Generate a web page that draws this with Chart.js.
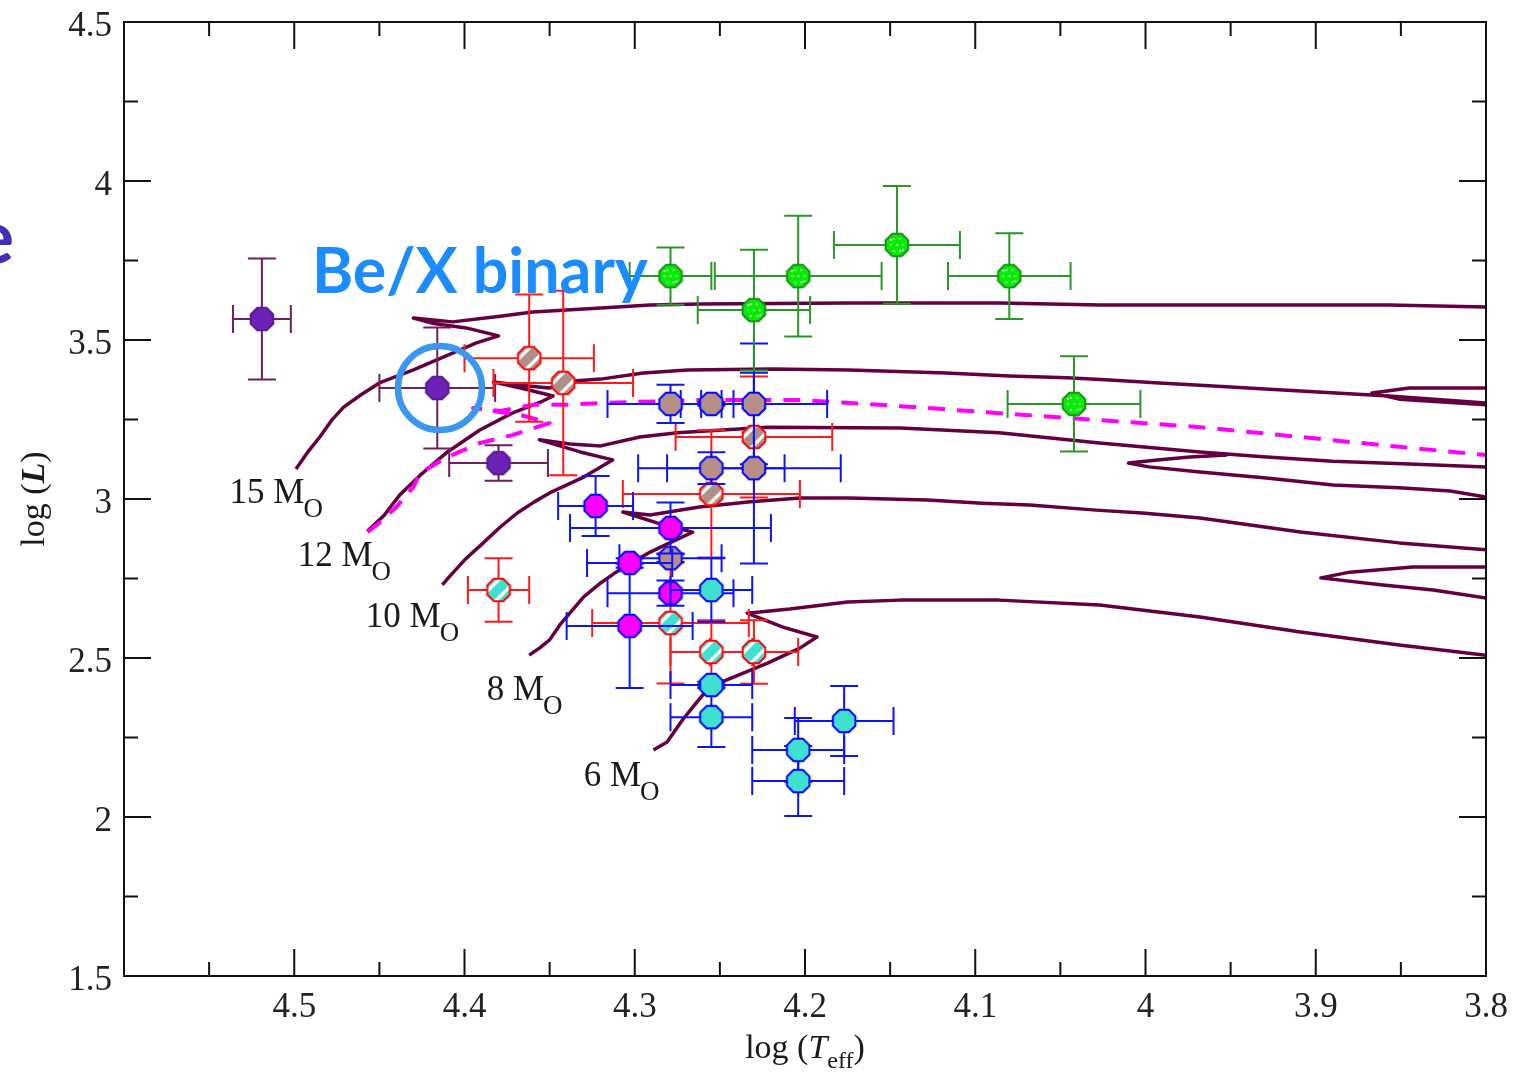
<!DOCTYPE html>
<html><head><meta charset="utf-8">
<script src="https://cdn.jsdelivr.net/npm/chart.js@4.4.1/dist/chart.umd.min.js"></script>
<style>html,body{margin:0;padding:0;background:#fff;overflow:hidden}canvas{display:block}</style>
</head><body>
<canvas id="c" width="1513" height="1076" style="width:1513px;height:1076px"></canvas>
<script>
// ---------- axis ranges ----------
const xMin = 3.8, xMax = 4.6, yMin = 1.5, yMax = 4.5;
const xTickStep = 0.1, yTickStep = 0.5;
const xTickLabels = ['4.5', '4.4', '4.3', '4.2', '4.1', '4', '3.9', '3.8'];
const yTickLabels = ['1.5', '2', '2.5', '3', '3.5', '4', '4.5'];

// ---------- evolutionary tracks [logTeff, logL] ----------
const track15 = [[4.499,3.094],[4.492,3.148],[4.485,3.195],[4.478,3.248],[4.471,3.289],[4.461,3.327],[4.450,3.365],[4.430,3.406],[4.407,3.459],[4.393,3.491],[4.380,3.513],[4.399,3.538],[4.419,3.553],[4.430,3.569],[4.407,3.557],[4.379,3.575],[4.360,3.588],[4.320,3.601],[4.291,3.610],[4.262,3.613],[4.174,3.616],[4.086,3.616],[4.027,3.610],[3.857,3.610],[3.800,3.604]];
const track12 = [[4.457,2.899],[4.447,2.950],[4.438,3.013],[4.426,3.075],[4.410,3.148],[4.391,3.217],[4.372,3.270],[4.354,3.308],[4.348,3.324],[4.367,3.349],[4.383,3.368],[4.367,3.358],[4.350,3.349],[4.336,3.371],[4.320,3.377],[4.295,3.396],[4.269,3.406],[4.219,3.409],[4.174,3.406],[4.117,3.396],[4.080,3.387],[4.046,3.381],[4.021,3.374],[3.992,3.365],[3.968,3.358],[3.909,3.340],[3.857,3.324],[3.800,3.302],[3.770,3.290],[3.770,3.360],[3.800,3.349],[3.845,3.349],[3.867,3.333],[3.851,3.314],[3.800,3.296],[3.770,3.285]];
const track10 = [[4.413,2.730],[4.409,2.755],[4.400,2.808],[4.389,2.862],[4.379,2.912],[4.369,2.956],[4.359,2.991],[4.350,3.019],[4.330,3.069],[4.313,3.123],[4.332,3.148],[4.356,3.186],[4.338,3.173],[4.320,3.167],[4.297,3.195],[4.275,3.208],[4.222,3.226],[4.144,3.223],[4.086,3.208],[4.027,3.176],[3.968,3.148],[3.929,3.132],[3.890,3.119],[3.845,3.110],[3.800,3.101],[3.770,3.095],[3.770,2.990],[3.800,3.006],[3.821,3.025],[3.851,3.035],[3.890,3.044],[3.929,3.066],[3.968,3.085],[3.998,3.101],[4.010,3.113],[3.993,3.123],[3.974,3.132],[3.952,3.138]];
const track8 = [[4.362,2.509],[4.356,2.531],[4.350,2.557],[4.344,2.604],[4.340,2.629],[4.330,2.692],[4.320,2.736],[4.311,2.770],[4.291,2.833],[4.272,2.881],[4.266,2.896],[4.287,2.925],[4.307,2.959],[4.291,2.950],[4.262,2.975],[4.232,2.991],[4.203,3.003],[4.174,3.003],[4.128,2.997],[4.096,2.987],[4.068,2.981],[4.029,2.965],[4.002,2.956],[3.968,2.940],[3.909,2.896],[3.851,2.862],[3.800,2.840],[3.770,2.830],[3.770,2.790],[3.800,2.786],[3.843,2.786],[3.880,2.770],[3.897,2.752],[3.862,2.730],[3.831,2.714],[3.800,2.689],[3.770,2.680]];
const track6 = [[4.289,2.211],[4.281,2.236],[4.272,2.305],[4.264,2.358],[4.256,2.409],[4.242,2.440],[4.222,2.484],[4.203,2.531],[4.193,2.566],[4.213,2.597],[4.234,2.641],[4.209,2.654],[4.175,2.676],[4.144,2.682],[4.086,2.682],[4.027,2.667],[3.968,2.629],[3.909,2.582],[3.851,2.541],[3.800,2.509]];
const trackDashed = [[4.457,2.896],[4.450,2.925],[4.440,2.975],[4.430,3.038],[4.426,3.082],[4.416,3.113],[4.410,3.132],[4.391,3.176],[4.372,3.201],[4.350,3.239],[4.367,3.264],[4.395,3.286],[4.379,3.277],[4.360,3.296],[4.340,3.296],[4.320,3.302],[4.262,3.311],[4.203,3.311],[4.144,3.292],[4.086,3.270],[4.027,3.248],[3.968,3.226],[3.909,3.195],[3.851,3.164],[3.800,3.138]];

// track labels: mass, left logT, baseline logL
const trackLabelMass = ['15', '12', '10', '8', '6'];
const trackLabelT = [4.538, 4.498, 4.458, 4.387, 4.330];
const trackLabelL = [2.987, 2.789, 2.598, 2.368, 2.098];

// ---------- stars ----------
const purpleT = [4.519, 4.416, 4.380];
const purpleL = [3.566, 3.349, 3.113];
const purpleXErr = [0.017, 0.034, 0.029];
const purpleYErr = [0.19, 0.19, 0.056];

const greyHatchT = [4.362, 4.342, 4.230, 4.255];
const greyHatchL = [3.443, 3.365, 3.195, 3.016];
const greyHatchXErr = [0.038, 0.041, 0.046, 0.052];
const greyHatchYErr = [0.20, 0.29, 0.19, 0.20];

const tealHatchT = [4.380, 4.279, 4.255, 4.230];
const tealHatchL = [2.714, 2.610, 2.519, 2.519];
const tealHatchXErr = [0.018, 0.046, 0.024, 0.026];
const tealHatchYErr = [0.10, 0.19, 0.10, 0.10];

const brownT = [4.279, 4.255, 4.230, 4.255, 4.230, 4.279];
const brownL = [3.299, 3.299, 3.299, 3.097, 3.097, 2.814];
const brownXErr = [0.037, 0.006, 0.043, 0.043, 0.051, 0.030];
const brownYErr = [0.06, 0.006, 0.19, 0.05, 0.30, 0.012];

const magentaT = [4.323, 4.279, 4.303, 4.279, 4.303];
const magentaL = [2.978, 2.909, 2.799, 2.704, 2.601];
const magentaXErr = [0.022, 0.059, 0.025, 0.037, 0.037];
const magentaYErr = [0.094, 0.08, 0.015, 0.04, 0.195];

const tealT = [4.255, 4.255, 4.255, 4.177, 4.204, 4.204];
const tealL = [2.714, 2.415, 2.314, 2.302, 2.211, 2.113];
const tealXErr = [0.024, 0.024, 0.024, 0.029, 0.027, 0.027];
const tealYErr = [0.10, 0.01, 0.094, 0.11, 0.10, 0.11];

const greenT = [4.279, 4.230, 4.204, 4.146, 4.080, 4.042];
const greenL = [3.701, 3.594, 3.701, 3.799, 3.701, 3.299];
const greenXErr = [0.024, 0.033, 0.049, 0.037, 0.036, 0.039];
const greenYErr = [0.09, 0.19, 0.19, 0.185, 0.135, 0.15];

// annotation anchors
const beXText = 'Be/X binary';
const beXPos = [4.4896, 3.648];
const circlePos = [4.4144, 3.349];

// ---------- styles ----------
const TRACK = '#64003f';
const SERIF = '"Liberation Serif", "Times New Roman", serif';

function makeMarker(fill, edge, pattern) {
  const s = 30, r = 12.2;
  const c = document.createElement('canvas'); c.width = s; c.height = s;
  const g = c.getContext('2d');
  const oct = () => { g.beginPath(); for (let i = 0; i < 8; i++) { const a = Math.PI / 8 + i * Math.PI / 4; const px = s/2 + r*Math.cos(a), py = s/2 + r*Math.sin(a); i ? g.lineTo(px, py) : g.moveTo(px, py); } g.closePath(); };
  oct(); g.fillStyle = fill; g.fill();
  if (pattern === 'hatch') {
    g.save(); oct(); g.clip(); g.strokeStyle = '#fff'; g.lineWidth = 3.2;
    [-5, 4].forEach(o => { g.beginPath(); g.moveTo(s/2 - 14 + o, s/2 + 14 + o); g.lineTo(s/2 + 14 + o, s/2 - 14 + o); g.stroke(); });
    g.restore();
  } else if (pattern === 'dots') {
    g.fillStyle = '#fff';
    [[-3,-6],[3,-6],[-6,0],[0,0],[6,0],[-3,6],[3,6],[-6,-5],[6,5]].forEach(([dx,dy]) => { g.beginPath(); g.arc(s/2+dx, s/2+dy, 1.1, 0, 2*Math.PI); g.fill(); });
  }
  oct(); g.lineWidth = 2; g.strokeStyle = edge; g.stroke();
  return c;
}

const pairs = (T, L) => T.map((t, i) => ({ x: t, y: L[i] }));
const trackData = arr => arr.map(p => ({ x: p[0], y: p[1] }));

function trackDs(arr, color, dash) {
  return { data: trackData(arr), showLine: true, borderColor: color, borderWidth: dash ? 4 : 3.5,
    borderDash: dash || [], pointRadius: 0, fill: false, clip: 0, order: 10, tension: 0, borderJoinStyle: 'round' };
}
function starDs(T, L, xe, ye, marker, errColor) {
  return { data: pairs(T, L), showLine: false, pointStyle: marker, pointRadius: 12, clip: 0, order: 1,
    err: { x: xe, y: ye, color: errColor } };
}

const datasets = [
  starDs(greenT, greenL, greenXErr, greenYErr, makeMarker('#00f000', '#1d8f1d', 'dots'), '#2a962a'),
  starDs(tealT, tealL, tealXErr, tealYErr, makeMarker('#40e0d0', '#0000ff'), '#0a14ff'),
  starDs(magentaT, magentaL, magentaXErr, magentaYErr, makeMarker('#ff00ff', '#0000ff'), '#0a14ff'),
  starDs(brownT, brownL, brownXErr, brownYErr, makeMarker('#b68f88', '#0000ff'), '#0a14ff'),
  starDs(tealHatchT, tealHatchL, tealHatchXErr, tealHatchYErr, makeMarker('#40e0d0', '#ff0000', 'hatch'), '#ff1a1a'),
  starDs(greyHatchT, greyHatchL, greyHatchXErr, greyHatchYErr, makeMarker('#ae8f88', '#ff0000', 'hatch'), '#ff1a1a'),
  starDs(purpleT, purpleL, purpleXErr, purpleYErr, makeMarker('#6c22b6', '#58189a'), '#6e1f5c'),
  trackDs(trackDashed, '#ff00ff', [17, 12]),
  trackDs(track15, TRACK), trackDs(track12, TRACK), trackDs(track10, TRACK), trackDs(track8, TRACK), trackDs(track6, TRACK)
];

const errorBars = {
  id: 'errorBars',
  beforeDatasetDraw(chart, args) {
    const ds = chart.data.datasets[args.index];
    if (!ds.err) return;
    const { ctx, chartArea: a, scales: { x, y } } = chart;
    const cap = 14;
    ctx.save();
    ctx.beginPath(); ctx.rect(a.left, a.top, a.right - a.left, a.bottom - a.top); ctx.clip();
    ctx.strokeStyle = ds.err.color; ctx.lineWidth = 2; ctx.lineCap = 'butt';
    ds.data.forEach((p, i) => {
      const px = x.getPixelForValue(p.x), py = y.getPixelForValue(p.y);
      const ex = ds.err.x[i], ey = ds.err.y[i];
      const x1 = x.getPixelForValue(p.x - ex), x2 = x.getPixelForValue(p.x + ex);
      const y1 = y.getPixelForValue(p.y - ey), y2 = y.getPixelForValue(p.y + ey);
      ctx.beginPath();
      ctx.moveTo(x1, py); ctx.lineTo(x2, py);
      ctx.moveTo(x1, py - cap); ctx.lineTo(x1, py + cap);
      ctx.moveTo(x2, py - cap); ctx.lineTo(x2, py + cap);
      ctx.moveTo(px, y1); ctx.lineTo(px, y2);
      ctx.moveTo(px - cap, y1); ctx.lineTo(px + cap, y1);
      ctx.moveTo(px - cap, y2); ctx.lineTo(px + cap, y2);
      ctx.stroke();
    });
    ctx.restore();
  }
};

const frame = {
  id: 'frame',
  afterDatasetsDraw(chart) {
    const { ctx, chartArea: a, scales: { x, y } } = chart;
    ctx.save(); ctx.strokeStyle = '#111'; ctx.lineWidth = 2;
    ctx.strokeRect(a.left, a.top, a.right - a.left, a.bottom - a.top);
    ctx.beginPath();
    const nx = Math.round((xMax - xMin) / (xTickStep / 2));
    for (let k = 0; k <= nx; k++) {
      const v = xMin + k * xTickStep / 2, len = k % 2 === 0 ? 27 : 14, px = x.getPixelForValue(v);
      ctx.moveTo(px, a.bottom); ctx.lineTo(px, a.bottom - len);
      ctx.moveTo(px, a.top); ctx.lineTo(px, a.top + len);
    }
    const ny = Math.round((yMax - yMin) / (yTickStep / 2));
    for (let k = 0; k <= ny; k++) {
      const v = yMin + k * yTickStep / 2, len = k % 2 === 0 ? 27 : 14, py = y.getPixelForValue(v);
      ctx.moveTo(a.left, py); ctx.lineTo(a.left + len, py);
      ctx.moveTo(a.right, py); ctx.lineTo(a.right - len, py);
    }
    ctx.stroke();
    // tick labels
    ctx.fillStyle = '#222'; ctx.font = '35px ' + SERIF; ctx.textBaseline = 'alphabetic';
    ctx.textAlign = 'center';
    xTickLabels.forEach(t => { const px = x.getPixelForValue(parseFloat(t)); ctx.fillText(t, px, a.bottom + 41); });
    ctx.textAlign = 'right';
    yTickLabels.forEach(t => { const py = y.getPixelForValue(parseFloat(t)); ctx.fillText(t, a.left - 12, py + 14); });
    ctx.restore();
  }
};

const texts = {
  id: 'texts',
  afterDraw(chart) {
    const { ctx, chartArea: a, scales: { x, y } } = chart;
    ctx.save();
    ctx.fillStyle = '#1a1a1a'; ctx.textBaseline = 'alphabetic'; ctx.textAlign = 'left';
    // track labels
    trackLabelMass.forEach((m, i) => {
      const px = x.getPixelForValue(trackLabelT[i]), py = y.getPixelForValue(trackLabelL[i]);
      ctx.font = '35px ' + SERIF;
      const main = m + ' M';
      ctx.fillText(main, px, py);
      const w = ctx.measureText(main).width;
      ctx.font = '27px ' + SERIF;
      ctx.fillText('O', px + w - 1, py + 14);
    });
    // x title
    const parts = [['log (', '34px ' + SERIF, 0], ['T', 'italic 34px ' + SERIF, 0], ['eff', '24px ' + SERIF, 10], [')', '34px ' + SERIF, 0]];
    let tw = 0; parts.forEach(p => { ctx.font = p[1]; tw += ctx.measureText(p[0]).width; });
    let cx = (a.left + a.right) / 2 - tw / 2; const by = a.bottom + 82;
    parts.forEach(p => { ctx.font = p[1]; ctx.fillText(p[0], cx, by + p[2]); cx += ctx.measureText(p[0]).width; });
    // y title
    ctx.save(); ctx.translate(44, (a.top + a.bottom) / 2); ctx.rotate(-Math.PI / 2);
    const yp = [['log (', '34px ' + SERIF], ['L', 'italic bold 34px ' + SERIF], [')', '34px ' + SERIF]];
    tw = 0; yp.forEach(p => { ctx.font = p[1]; tw += ctx.measureText(p[0]).width; });
    cx = -tw / 2; yp.forEach(p => { ctx.font = p[1]; ctx.fillText(p[0], cx, 0); cx += ctx.measureText(p[0]).width; });
    ctx.restore();
    // circle
    ctx.strokeStyle = '#3997f2'; ctx.lineWidth = 6.5;
    ctx.beginPath(); ctx.arc(x.getPixelForValue(circlePos[0]), y.getPixelForValue(circlePos[1]), 42, 0, 2 * Math.PI); ctx.stroke();
    // Be/X binary
    ctx.fillStyle = '#1a8cff';
    let fs = 66; ctx.font = 'bold ' + fs + 'px Lato';
    fs = fs * 336 / ctx.measureText(beXText).width; ctx.font = 'bold ' + fs.toFixed(1) + 'px Lato';
    ctx.fillText(beXText, x.getPixelForValue(beXPos[0]), y.getPixelForValue(beXPos[1]));
    // cut-off slide text at the left edge
    ctx.fillStyle = '#3f2fb5'; ctx.font = 'bold 74px Lato'; ctx.textAlign = 'right';
    ctx.fillText('e', 14, 263);
    ctx.restore();
  }
};

new Chart(document.getElementById('c'), {
  type: 'scatter',
  data: { datasets },
  options: {
    responsive: false, animation: false, devicePixelRatio: 1, events: [],
    layout: { padding: { top: 22, right: 27, left: 0, bottom: 0 } },
    plugins: { legend: { display: false }, tooltip: { enabled: false } },
    scales: {
      x: { type: 'linear', min: xMin, max: xMax, reverse: true,
        grid: { display: false, drawTicks: false }, border: { display: false },
        ticks: { display: false, stepSize: xTickStep },
        afterFit: s => { s.height = 100; } },
      y: { type: 'linear', min: yMin, max: yMax,
        grid: { display: false, drawTicks: false }, border: { display: false },
        ticks: { display: false, stepSize: yTickStep },
        afterFit: s => { s.width = 124; } }
    }
  },
  plugins: [errorBars, frame, texts]
});
</script>
</body></html>
